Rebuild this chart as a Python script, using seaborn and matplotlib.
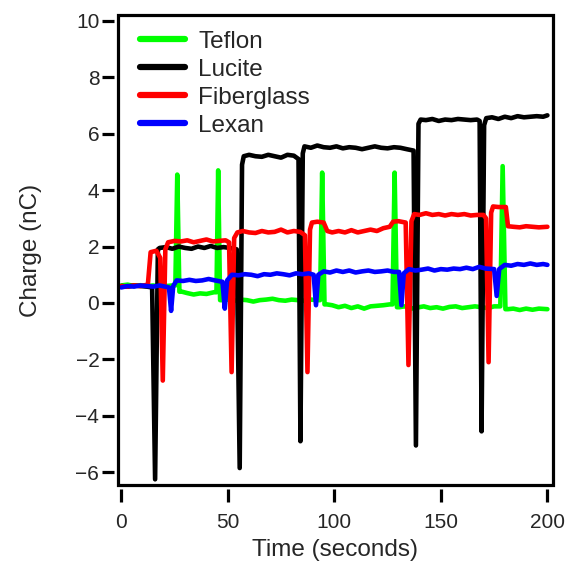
import numpy as np
import pandas as pd
import matplotlib
matplotlib.use("Agg")
import matplotlib.pyplot as plt
import seaborn as sns
from matplotlib.patches import Rectangle

# ---- data ----
teflon_t = [0, 3, 6, 9, 12, 15, 18, 21, 24,
            25.4, 26.3, 27.3,
            28.5, 31, 34, 37, 40, 43.5,
            44.7, 45.5, 46.4,
            47.5, 50, 53, 56, 59, 62, 65, 68, 71, 74, 77, 80, 83, 86, 89, 92,
            93.3, 94.3, 95.4,
            96.5, 99, 102, 105, 108, 111, 114, 117, 120, 123, 126,
            127.3, 128.3, 129.4,
            130.5, 133, 136, 139, 142, 145, 148, 151, 154, 157, 160, 163, 166, 169, 172, 175,
            177.9, 179, 180.3,
            181.5, 184, 187, 190, 193, 196, 200]
teflon_q = [0.62, 0.65, 0.6, 0.63, 0.6, 0.62, 0.58, 0.6, 0.62,
            0.62, 4.55, 0.4,
            0.4, 0.35, 0.3, 0.34, 0.32, 0.38,
            0.38, 4.7, 0.1,
            0.1, 0.12, 0.08, 0.12, 0.1, 0.05, 0.1, 0.12, 0.15, 0.1, 0.08, 0.12, 0.1, 0.08, 0.12, 0.1,
            0.1, 4.62, -0.05,
            -0.05, -0.08, -0.15, -0.1, -0.18, -0.12, -0.2, -0.12, -0.1, -0.08, -0.05,
            -0.05, 4.62, -0.15,
            -0.15, -0.12, -0.2, -0.16, -0.12, -0.18, -0.15, -0.2, -0.14, -0.12, -0.18, -0.15, -0.12, -0.15, -0.18, -0.12,
            -0.12, 4.85, -0.22,
            -0.22, -0.2, -0.25, -0.2, -0.24, -0.2, -0.22]

lucite_t = [0, 3, 6, 9, 12, 14.5,
            15.9, 17.2,
            18, 21, 24, 27, 30, 33, 36, 39, 42, 45, 48, 51, 54.2,
            55.6, 56.7,
            57.5, 60, 63, 66, 69, 72, 75, 78, 81, 83.2,
            84.1, 85.2,
            86, 89, 92, 95, 98, 101, 104, 107, 110, 113, 116, 119, 122, 125, 128, 131, 134, 137.2,
            138.3, 139.5,
            140.5, 143, 146, 149, 152, 155, 158, 161, 164, 167, 168.2,
            169.1, 170.3,
            171.3, 174, 177, 180, 183, 186, 189, 192, 195, 198, 200]
lucite_q = [0.6, 0.58, 0.62, 0.6, 0.58, 0.55,
            -6.25, 1.9,
            1.95, 1.98, 1.92, 2.0, 1.95, 1.92, 2.0, 1.95, 2.02, 1.95, 1.98, 1.95, 1.9,
            -5.85, 4.9,
            5.2, 5.25, 5.2, 5.18, 5.25, 5.2, 5.15, 5.25, 5.22, 5.1,
            -4.9, 5.3,
            5.55, 5.5, 5.58, 5.52, 5.5, 5.55, 5.48, 5.52, 5.5, 5.45, 5.5, 5.55, 5.5, 5.48, 5.52, 5.5, 5.45, 5.4,
            -5.05, 6.35,
            6.5, 6.48, 6.52, 6.45, 6.5, 6.48, 6.52, 6.5, 6.48, 6.5, 6.45,
            -4.55, 6.3,
            6.55, 6.58, 6.52, 6.6, 6.55, 6.62, 6.58, 6.6, 6.62, 6.6, 6.65]

fiber_t = [0, 3, 6, 9, 12.5,
           13.8, 16.5, 18.3,
           19.5, 20.7,
           22, 25, 28, 31, 34, 37, 40, 43, 46, 49, 50.6,
           51.8, 53.0,
           54.5, 57, 60, 63, 66, 69, 72, 75, 78, 81, 84, 86.2,
           87.4, 88.6,
           89.5, 92, 95, 96.7,
           99, 102, 105, 108, 111, 114, 117, 120, 123, 126,
           127.6, 130, 133.5,
           134.8, 136.2,
           137.5, 140, 143, 146, 149, 152, 155, 158, 161, 164, 167, 170, 171.2,
           172.4, 173.6,
           174.5, 177, 180.5,
           181.5, 184, 187, 190, 193, 196, 200]
fiber_q = [0.6, 0.58, 0.62, 0.6, 0.65,
           1.8, 1.85, 1.6,
           -2.75, 1.9,
           2.15, 2.2, 2.18, 2.22, 2.15, 2.2, 2.25, 2.18, 2.2, 2.22, 2.15,
           -2.45, 2.3,
           2.5, 2.55, 2.5, 2.48, 2.55, 2.5, 2.52, 2.6, 2.5, 2.55, 2.52, 2.4,
           -2.45, 2.6,
           2.85, 2.88, 2.85, 2.55,
           2.5, 2.55, 2.5, 2.58, 2.5, 2.55, 2.6, 2.55, 2.65, 2.7,
           2.88, 2.9, 2.85,
           -2.2, 2.9,
           3.15, 3.12, 3.18, 3.12, 3.15, 3.1, 3.15, 3.12, 3.15, 3.1, 3.12, 3.12, 3.0,
           -2.1, 3.2,
           3.42, 3.4, 3.4,
           2.72, 2.7, 2.68, 2.72, 2.7, 2.68, 2.7]

lexan_t = [0, 3, 6, 9, 12, 15, 18, 22.4,
           23.4, 24.4,
           26, 29, 32, 35, 38, 41, 44, 47.5,
           48.6, 49.7,
           52, 55, 58, 61, 64, 67, 70, 73, 76, 79, 82, 85, 88, 90.3,
           91.4, 92.5,
           95, 98, 101, 104, 107, 110, 113, 116, 119, 122, 125, 128, 130.4,
           131.5, 132.6,
           135, 138, 141, 144, 147, 150, 153, 156, 159, 162, 165, 168, 171, 175,
           176.2, 177.4,
           180, 183, 186, 189, 192, 195, 198, 200]
lexan_q = [0.55, 0.6, 0.58, 0.62, 0.6, 0.58, 0.62, 0.55,
           -0.28, 0.6,
           0.8, 0.78, 0.82, 0.78, 0.8, 0.85, 0.8, 0.75,
           -0.2, 0.8,
           1.0, 0.98, 1.02, 1.0, 0.95, 1.02, 1.0, 1.05, 1.02, 0.98, 1.05, 1.02, 1.05, 1.0,
           -0.08, 1.0,
           1.12, 1.08, 1.15, 1.1, 1.15, 1.08, 1.12, 1.15, 1.1, 1.12, 1.15, 1.1, 1.1,
           -0.08, 1.05,
           1.2, 1.15, 1.18, 1.22, 1.15, 1.2, 1.18, 1.22, 1.2, 1.25, 1.2, 1.28, 1.22, 1.2,
           0.25, 1.2,
           1.35, 1.32, 1.38, 1.35, 1.4, 1.35, 1.38, 1.35]

names = ["Teflon", "Lucite", "Fiberglass", "Lexan"]
colors = ["#00ff00", "#000000", "#ff0000", "#0000ff"]
x_ticks = [0, 50, 100, 150, 200]
y_ticks = [-6, -4, -2, 0, 2, 4, 6, 8, 10]

frames = []
for name, t, q in zip(names, [teflon_t, lucite_t, fiber_t, lexan_t],
                      [teflon_q, lucite_q, fiber_q, lexan_q]):
    assert len(t) == len(q), name
    frames.append(pd.DataFrame({"Time": t, "Charge": q, "Material": name}))
df = pd.concat(frames, ignore_index=True)

sns.set_style("white")
plt.rcParams["font.family"] = ["Liberation Sans", "DejaVu Sans"]

fig = plt.figure(figsize=(5.71, 5.61), dpi=100)
ax = fig.add_axes([0.2067, 0.1355, 0.7613, 0.8375])

sns.lineplot(data=df, x="Time", y="Charge", hue="Material", hue_order=names,
             palette=dict(zip(names, colors)), estimator=None, sort=False,
             linewidth=3.3, ax=ax)

ax.set_xlim(-1.5, 202.5)
ax.set_ylim(-6.45, 10.2)
ax.set_xticks(x_ticks)
ax.set_yticks(y_ticks)

for side in ["top", "right", "bottom", "left"]:
    ax.spines[side].set_visible(False)
ax.spines["bottom"].set_position(("outward", 3))
ax.spines["left"].set_position(("outward", 3))
ax.add_patch(Rectangle((0, 0), 1, 1, transform=ax.transAxes, fill=False,
                       edgecolor="black", linewidth=2.3, clip_on=False, zorder=5))

ax.tick_params(axis="both", which="major", direction="out", length=9, width=2.3,
               color="black", labelsize=15, bottom=True, left=True)
ax.tick_params(axis="x", pad=8.5)
ax.tick_params(axis="y", pad=1.5)

ax.set_xlabel("Time (seconds)", fontsize=17.5, labelpad=5)
ax.set_ylabel("Charge (nC)", fontsize=17.5, labelpad=24)

leg = ax.legend(loc="upper left", frameon=False, fontsize=17.5, handlelength=1.85,
                handletextpad=0.55, labelspacing=0.25, borderaxespad=0, borderpad=0,
                bbox_to_anchor=(0.05, 0.967))
for line in leg.get_lines():
    line.set_linewidth(4.5)

fig.savefig("out.png", dpi=100)
